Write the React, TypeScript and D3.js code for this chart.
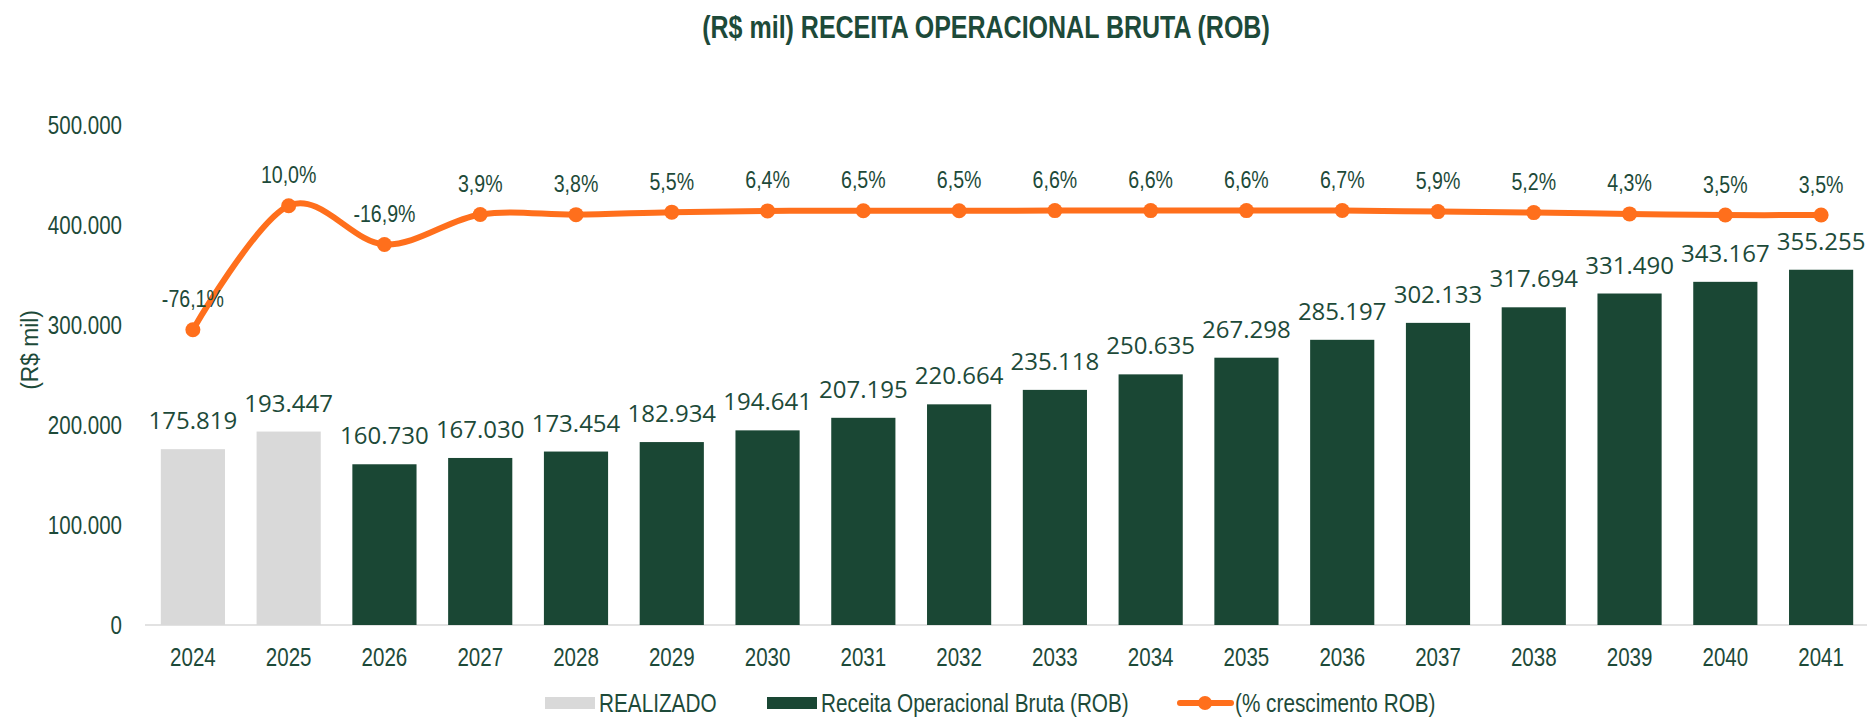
import React from "react";
import * as d3 from "d3";

const categories = ["2024","2025","2026","2027","2028","2029","2030","2031","2032","2033","2034","2035","2036","2037","2038","2039","2040","2041"];
const revenue = [175819,193447,160730,167030,173454,182934,194641,207195,220664,235118,250635,267298,285197,302133,317694,331490,343167,355255];
const realizedYears = ["2024","2025"];
const growth = [-76.1,10.0,-16.9,3.9,3.8,5.5,6.4,6.5,6.5,6.6,6.6,6.6,6.7,5.9,5.2,4.3,3.5,3.5];
const yTicks = [0,100000,200000,300000,400000,500000];
const title = "(R$ mil) RECEITA OPERACIONAL BRUTA (ROB)";
const yTitle = "(R$ mil)";
const legendLabels = ["REALIZADO","Receita Operacional Bruta (ROB)","(% crescimento ROB)"];

const W = 1870, H = 721;
const GREEN = "#1A4734";
const TEXT = "#1D4A39";
const GRAY = "#D9D9D9";
const ORANGE = "#FF6F1C";
const SANS = "'Liberation Sans',Arial,sans-serif";
const LABELFONT = "'Open Sans','Noto Sans',sans-serif";
const NARROW_SCALE = 0.82;

const loc = d3.formatLocale({ decimal: ",", thousands: ".", grouping: [3], currency: ["R$", ""], minus: "-" });
const fmtNum = loc.format(",.0f");
const fmtPct = loc.format(",.1f");

function NText(props: { x: number; y: number; size: number; anchor?: string; bold?: boolean; rotate?: number; sx?: number; children: React.ReactNode }) {
  const { x, y, size, anchor = "start", bold = false, rotate = 0, sx = NARROW_SCALE, children } = props;
  return (
    <text
      transform={`translate(${x},${y}) rotate(${rotate}) scale(${sx},1)`}
      textAnchor={anchor}
      dy="0.35em"
      fontFamily={SANS}
      fontWeight={bold ? "bold" : "normal"}
      fontSize={size}
      fill={TEXT}
    >
      {children}
    </text>
  );
}

export default function App() {
  const x = d3.scaleBand<string>().domain(categories).range([145, 1869]).paddingInner(0.33).paddingOuter(0.165);
  const y = d3.scaleLinear().domain([0, 500000]).range([625, 125]);
  const y2 = d3.scaleLinear().domain([-281, 66]).range([625, 125]);
  const cx = (c: string) => (x(c) as number) + x.bandwidth() / 2;

  const pts: [number, number][] = categories.map((c, i) => [cx(c), y2(growth[i])]);
  const line = d3.line().curve(d3.curveCardinal.tension(0))(pts) as string;

  return (
    <svg width={W} height={H} style={{ position: "absolute", left: 0, top: 0, background: "#fff" }}>
      <NText x={986} y={27} size={30.5} anchor="middle" bold>{title}</NText>
      <NText x={30} y={350} size={24} anchor="middle" rotate={-90} sx={0.95}>{yTitle}</NText>
      {yTicks.map(t => (
        <NText key={t} x={122} y={y(t)} size={26} sx={0.79} anchor="end">{fmtNum(t)}</NText>
      ))}
      <line x1={145} x2={1867} y1={y(0)} y2={y(0)} stroke={GRAY} strokeWidth={1.5} />
      {categories.map((c, i) => (
        <rect key={c} x={x(c)} y={y(revenue[i])} width={x.bandwidth()} height={y(0) - y(revenue[i])}
          fill={realizedYears.includes(c) ? GRAY : GREEN} />
      ))}
      {categories.map((c, i) => (
        <text key={c} x={cx(c)} y={y(revenue[i]) - 20} textAnchor="middle" fontFamily={LABELFONT} fontSize={24} fill={TEXT}>{fmtNum(revenue[i])}</text>
      ))}
      {categories.map(c => (
        <NText key={c} x={cx(c)} y={657} size={26} sx={0.79} anchor="middle">{c}</NText>
      ))}
      <path d={line} fill="none" stroke={ORANGE} strokeWidth={6} strokeLinecap="round" />
      {pts.map((p, i) => (
        <circle key={i} cx={p[0]} cy={p[1]} r={7.5} fill={ORANGE} />
      ))}
      {pts.map((p, i) => (
        <NText key={i} x={p[0]} y={p[1] - 31} size={24.5} sx={0.8} anchor="middle">{fmtPct(growth[i]) + "%"}</NText>
      ))}
      <rect x={545} y={697} width={50} height={12} fill={GRAY} />
      <NText x={599} y={703} size={25.3}>{legendLabels[0]}</NText>
      <rect x={767} y={697} width={50} height={12} fill={GREEN} />
      <NText x={821} y={703} size={25.3}>{legendLabels[1]}</NText>
      <line x1={1180} x2={1231} y1={703} y2={703} stroke={ORANGE} strokeWidth={6} strokeLinecap="round" />
      <circle cx={1205} cy={703} r={7} fill={ORANGE} />
      <NText x={1235} y={703} size={25.3}>{legendLabels[2]}</NText>
    </svg>
  );
}
